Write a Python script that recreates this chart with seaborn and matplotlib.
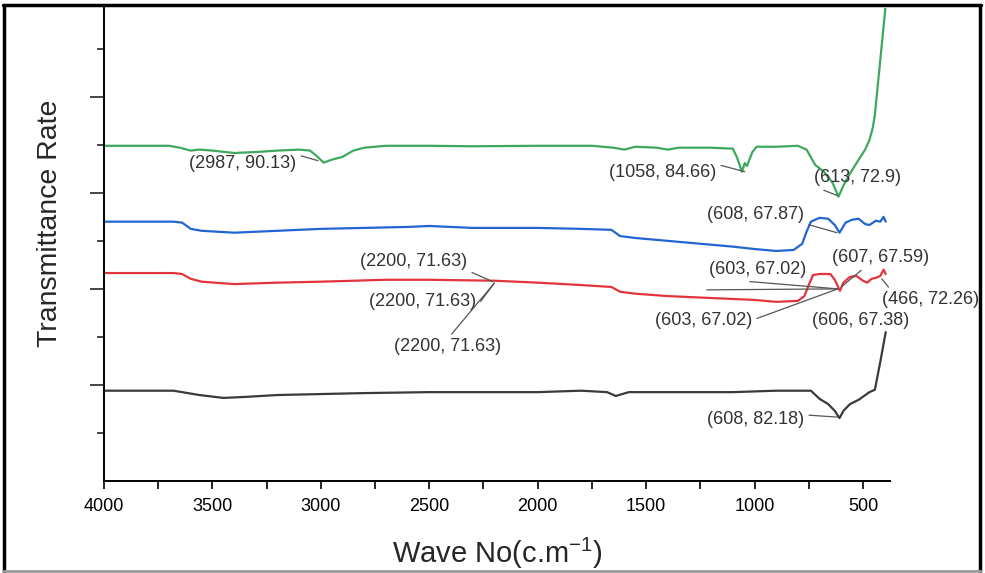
import matplotlib
matplotlib.use("Agg")
import matplotlib.pyplot as plt
from matplotlib.lines import Line2D
import numpy as np
import pandas as pd
import seaborn as sns

# spectra (y is offset transmittance, arbitrary units)
wn_green = [4000, 3700, 3650, 3600, 3560, 3500, 3400, 3300, 3200, 3100, 3050, 3020, 2987, 2950,
            2900, 2850, 2800, 2700, 2500, 2300, 2000, 1750, 1650, 1600, 1550, 1450, 1400, 1350,
            1200, 1100, 1080, 1058, 1045, 1035, 1010, 990, 900, 800, 760, 720, 680, 640, 613,
            590, 560, 520, 490, 470, 455, 445, 420, 395, 385]
tr_green = [6.98, 6.98, 6.94, 6.88, 6.90, 6.88, 6.83, 6.85, 6.88, 6.90, 6.88, 6.77, 6.63, 6.69,
            6.75, 6.88, 6.94, 6.98, 6.98, 6.97, 6.98, 6.98, 6.94, 6.90, 6.96, 6.94, 6.90, 6.94,
            6.94, 6.92, 6.73, 6.44, 6.62, 6.56, 6.85, 6.96, 6.96, 6.98, 6.90, 6.58, 6.44, 6.21, 5.92,
            6.15, 6.40, 6.69, 6.90, 7.10, 7.35, 7.62, 8.77, 9.92, 10.33]

wn_blue = [4000, 3680, 3640, 3600, 3550, 3400, 3200, 3000, 2800, 2600, 2500, 2300, 2000, 1800,
           1660, 1620, 1550, 1400, 1250, 1100, 1000, 900, 820, 780, 760, 740, 700, 660, 630,
           608, 580, 550, 520, 490, 470, 440, 420, 405, 395]
tr_blue = [5.40, 5.40, 5.38, 5.25, 5.21, 5.17, 5.21, 5.25, 5.27, 5.29, 5.31, 5.27, 5.27, 5.25,
           5.23, 5.10, 5.06, 5.00, 4.94, 4.88, 4.83, 4.79, 4.81, 4.94, 5.19, 5.40, 5.48, 5.46, 5.33,
           5.17, 5.38, 5.44, 5.46, 5.35, 5.33, 5.42, 5.40, 5.50, 5.40]

wn_red = [4000, 3680, 3640, 3600, 3550, 3400, 3200, 3000, 2700, 2500, 2200, 2000, 1800, 1660,
          1620, 1550, 1400, 1200, 1000, 900, 800, 770, 750, 730, 700, 650, 630, 606, 590, 560,
          530, 500, 480, 460, 440, 420, 405, 395]
tr_red = [4.33, 4.33, 4.31, 4.21, 4.15, 4.10, 4.13, 4.15, 4.19, 4.19, 4.17, 4.13, 4.08, 4.04,
          3.94, 3.90, 3.85, 3.81, 3.77, 3.73, 3.75, 3.85, 4.08, 4.29, 4.31, 4.31, 4.19, 3.96, 4.13,
          4.25, 4.27, 4.17, 4.13, 4.21, 4.23, 4.27, 4.40, 4.31]

wn_black = [4000, 3680, 3640, 3560, 3450, 3350, 3200, 3000, 2800, 2500, 2200, 2000, 1800, 1680,
            1640, 1610, 1580, 1400, 1100, 900, 780, 740, 700, 660, 630, 608, 590, 560, 520, 470,
            445, 420, 395]
tr_black = [1.88, 1.88, 1.85, 1.79, 1.73, 1.75, 1.79, 1.81, 1.83, 1.85, 1.85, 1.85, 1.88, 1.85,
            1.77, 1.81, 1.85, 1.85, 1.85, 1.88, 1.88, 1.88, 1.71, 1.60, 1.46, 1.31, 1.46, 1.60,
            1.69, 1.85, 1.90, 2.48, 3.10]

series = ["green", "blue", "red", "black"]
colors = {"green": "#3ea85e", "blue": "#2165d1", "red": "#e2343d", "black": "#3a3a3a"}

# peak labels: text, point on curve, text centre, where the leader leaves the text
labels = ["(2987, 90.13)", "(1058, 84.66)", "(613, 72.9)", "(608, 67.87)",
          "(2200, 71.63)", "(2200, 71.63)", "(2200, 71.63)",
          "(603, 67.02)", "(603, 67.02)", "(607, 67.59)", "(466, 72.26)",
          "(606, 67.38)", "(608, 82.18)"]
label_xy = [(3013, 6.67), (1045, 6.44), (616, 5.94), (620, 5.17),
            (2207, 4.15), (2200, 4.12), (2200, 4.12),
            (616, 4.00), (616, 4.00), (600, 4.04), (413, 4.21),
            None, (616, 1.33)]
label_text = [(3359, 6.62), (1423, 6.42), (524, 6.31), (994, 5.54),
              (2571, 4.56), (2529, 3.73), (2414, 2.79),
              (985, 4.40), (1234, 3.35), (418, 4.65), (187, 3.77),
              (510, 3.35), (994, 1.27)]
label_rel = [(1, 1), (1, 1), (0, 0), (1, 0),
             (1, 0), (1, 0.2), (0.5, 1),
             (0, 0), (1, 0.5), (0.35, 0), (0.1, 1),
             None, (1, 0.8)]

frames = []
for name, w, t in [("green", wn_green, tr_green), ("blue", wn_blue, tr_blue),
                   ("red", wn_red, tr_red), ("black", wn_black, tr_black)]:
    frames.append(pd.DataFrame({"wn": w, "tr": t, "sample": name}))
df = pd.concat(frames, ignore_index=True)

sns.set_style("ticks")
plt.rcParams["font.family"] = ["Liberation Sans", "DejaVu Sans"]
plt.rcParams["mathtext.fontset"] = "custom"
plt.rcParams["mathtext.rm"] = "Liberation Sans"
plt.rcParams["mathtext.default"] = "regular"

fig = plt.figure(figsize=(9.85, 5.73), dpi=100)
ax = fig.add_axes([0.1056, 0.1606, 0.798, 0.8255])

sns.lineplot(data=df, x="wn", y="tr", hue="sample", palette=colors, hue_order=series,
             estimator=None, sort=False, legend=False, linewidth=1.6, ax=ax)

ax.set_xlim(4000, 375)
ax.set_ylim(0, 9.85)
ax.set_xticks(np.arange(4000, 499, -500))
ax.set_xticks(np.arange(3750, 499, -500), minor=True)
ax.set_yticks([2, 4, 6, 8])
ax.set_yticks([1, 3, 5, 7, 9], minor=True)
ax.set_yticklabels([])
ax.tick_params(axis="x", which="both", direction="out", length=6, width=1.2, labelsize=13,
               pad=6, colors="black")
ax.tick_params(axis="y", which="major", direction="out", length=10, width=1.2)
ax.tick_params(axis="y", which="minor", direction="out", length=5, width=1.2)
for s in ["top", "right"]:
    ax.spines[s].set_visible(False)
for s in ["left", "bottom"]:
    ax.spines[s].set_linewidth(1.4)
    ax.spines[s].set_color("black")

ax.set_xlabel("Wave No(c.m$^{-1}$)", fontsize=21, labelpad=15)
ax.set_ylabel("Transmittance Rate", fontsize=20.5)
ax.yaxis.set_label_coords(-0.052, 0.545)

for txt, xy, xt, rel in zip(labels, label_xy, label_text, label_rel):
    if xy is None:
        ax.text(xt[0], xt[1], txt, fontsize=13, ha="center", va="center", color="#333333")
        continue
    ax.annotate(txt, xy=xy, xytext=xt, fontsize=13, ha="center", va="center", color="#333333",
                annotation_clip=False,
                arrowprops=dict(arrowstyle="-", color="#555555", lw=0.9, relpos=rel,
                                shrinkA=1, shrinkB=0))

# the extra leader that runs in from the left onto the red peak
ax.annotate("", xy=(616, 4.00), xytext=(1220, 3.98),
            arrowprops=dict(arrowstyle="-", color="#555555", lw=0.9, shrinkA=0, shrinkB=0))

# outer frame of the picture
fig.lines.extend([
    Line2D([0.003, 0.996], [0.991, 0.991], transform=fig.transFigure, color="black", lw=2.5),
    Line2D([0.004, 0.004], [0.003, 0.991], transform=fig.transFigure, color="black", lw=2.5),
    Line2D([0.995, 0.995], [0.003, 0.991], transform=fig.transFigure, color="black", lw=2.5),
    Line2D([0.003, 0.996], [0.003, 0.003], transform=fig.transFigure, color="#999999", lw=2),
])

fig.savefig("out.png", dpi=100)
